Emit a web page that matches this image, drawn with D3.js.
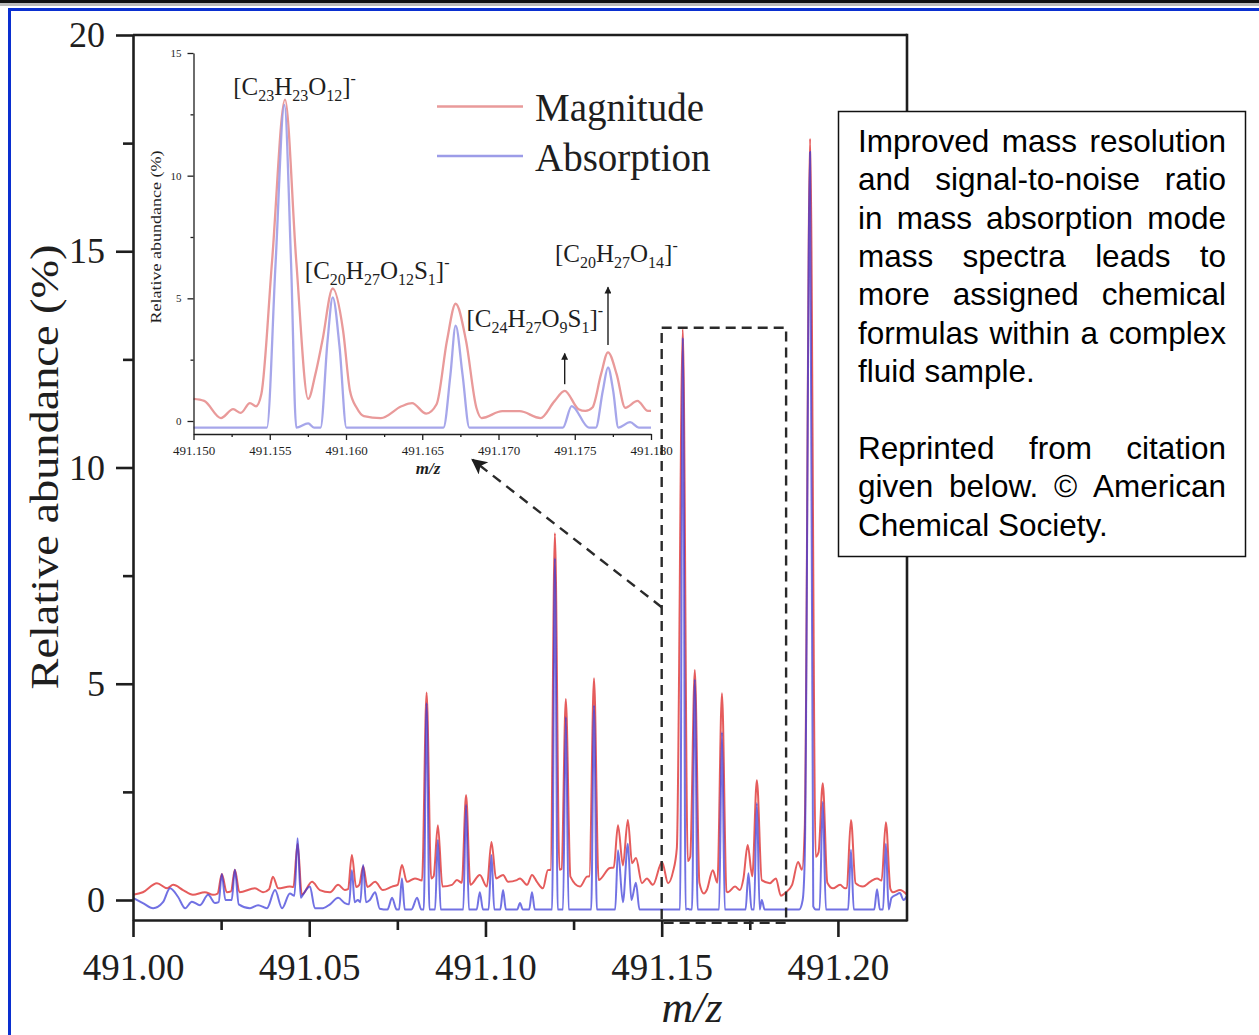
<!DOCTYPE html>
<html>
<head>
<meta charset="utf-8">
<script src="https://cdnjs.cloudflare.com/ajax/libs/d3/7.8.5/d3.min.js"></script>
<style>
    body { margin: 0; background: #fff; }
    svg { display: block; }
</style>
</head>
<body>
<div id="chart"></div>
<script>
// tick values
var mainXTicks = [491.00, 491.05, 491.10, 491.15, 491.20];
var mainXMinor = [491.025, 491.075, 491.125, 491.175];
var mainYTicks = [0, 5, 10, 15, 20];
var mainYMinor = [2.5, 7.5, 12.5, 17.5];
var insetXTicks = [491.150, 491.155, 491.160, 491.165, 491.170, 491.175, 491.180];
var insetXMinor = [491.1525, 491.1575, 491.1625, 491.1675, 491.1725, 491.1775];
var insetYTicks = [0, 5, 10, 15];
var insetYMinor = [2.5, 7.5, 12.5];

var seriesNames = ["Magnitude", "Absorption"];

// main spectrum, [m/z, relative abundance %]
var magnitudeMain = [
    [491.0000, 0.12], [491.0028, 0.18], [491.0068, 0.39], [491.0097, 0.27], [491.0114, 0.35],
    [491.0142, 0.23], [491.0170, 0.12], [491.0204, 0.18], [491.0227, 0.12], [491.0240, 0.15],
    [491.0252, 0.60], [491.0266, 0.18], [491.0278, 0.20], [491.0289, 0.70], [491.0302, 0.18],
    [491.0346, 0.27], [491.0369, 0.18], [491.0386, 0.25], [491.0397, 0.54], [491.0412, 0.27],
    [491.0445, 0.31], [491.0455, 0.30], [491.0467, 1.30], [491.0479, 0.12], [491.0508, 0.42],
    [491.0530, 0.23], [491.0559, 0.18], [491.0582, 0.35], [491.0601, 0.23], [491.0610, 0.25],
    [491.0621, 1.04], [491.0633, 0.30], [491.0642, 0.35], [491.0653, 0.78], [491.0665, 0.30],
    [491.0687, 0.42], [491.0709, 0.23], [491.0735, 0.31], [491.0751, 0.35], [491.0763, 0.81],
    [491.0777, 0.42], [491.0800, 0.50], [491.0820, 0.45], [491.0833, 4.80], [491.0846, 0.50],
    [491.0853, 0.55], [491.0865, 1.73], [491.0878, 0.31], [491.0905, 0.35], [491.0919, 0.46],
    [491.0933, 0.40], [491.0945, 2.43], [491.0957, 0.35], [491.0984, 0.58], [491.1004, 0.31],
    [491.1017, 1.34], [491.1030, 0.50], [491.1050, 0.58], [491.1064, 0.42], [491.1089, 0.46],
    [491.1098, 0.50], [491.1118, 0.35], [491.1132, 0.58], [491.1146, 0.42], [491.1163, 0.27],
    [491.1177, 0.69], [491.1185, 0.70], [491.1197, 8.48], [491.1210, 0.70], [491.1216, 0.72],
    [491.1228, 4.65], [491.1241, 0.54], [491.1268, 0.31], [491.1288, 0.54], [491.1295, 0.55],
    [491.1308, 5.13], [491.1321, 0.46], [491.1353, 0.74], [491.1364, 0.75], [491.1376, 1.73],
    [491.1390, 0.80], [491.1404, 1.85], [491.1416, 0.85], [491.1427, 0.97], [491.1444, 0.39],
    [491.1458, 0.50], [491.1475, 0.35], [491.1501, 0.88], [491.1518, 0.39], [491.1532, 0.65],
    [491.1543, 1.20], [491.1560, 13.20], [491.1574, 0.90], [491.1581, 1.00], [491.1594, 5.32],
    [491.1607, 0.40], [491.1620, 0.15], [491.1628, 0.23], [491.1645, 0.69], [491.1658, 0.40],
    [491.1671, 4.78], [491.1684, 0.20], [491.1688, 0.18], [491.1708, 0.31], [491.1722, 0.23],
    [491.1732, 0.50], [491.1744, 1.27], [491.1757, 0.55], [491.1770, 2.77], [491.1784, 0.46],
    [491.1807, 0.39], [491.1824, 0.50], [491.1838, 0.10], [491.1850, 0.16], [491.1870, 0.35],
    [491.1887, 0.88], [491.1898, 0.70], [491.1906, 1.70], [491.1921, 17.60], [491.1937, 1.00],
    [491.1945, 1.10], [491.1957, 2.70], [491.1970, 0.40], [491.1986, 0.27], [491.2006, 0.35],
    [491.2020, 0.27], [491.2025, 0.28], [491.2037, 1.85], [491.2050, 0.39], [491.2071, 0.31],
    [491.2091, 0.42], [491.2111, 0.50], [491.2124, 0.45], [491.2136, 1.80], [491.2149, 0.25],
    [491.2156, 0.18], [491.2176, 0.23], [491.2196, 0.12]
];

var absorptionMain = [
    [491.0000, 0.05], [491.0028, -0.07], [491.0057, -0.19], [491.0085, -0.05], [491.0105, 0.27],
    [491.0128, 0.07], [491.0148, -0.19], [491.0167, -0.04], [491.0190, -0.12], [491.0213, 0.12],
    [491.0233, -0.07], [491.0243, -0.05], [491.0252, 0.60], [491.0262, 0.00], [491.0280, 0.00],
    [491.0289, 0.70], [491.0300, -0.10], [491.0332, -0.19], [491.0355, -0.12], [491.0380, -0.19],
    [491.0403, 0.23], [491.0423, -0.19], [491.0445, 0.15], [491.0458, 0.10], [491.0467, 1.43],
    [491.0476, 0.05], [491.0482, 0.12], [491.0502, 0.31], [491.0516, -0.19], [491.0539, -0.19],
    [491.0559, -0.10], [491.0582, 0.05], [491.0601, -0.07], [491.0613, -0.10], [491.0621, 0.69],
    [491.0629, -0.05], [491.0638, 0.00], [491.0645, -0.05], [491.0653, 0.81], [491.0661, -0.05],
    [491.0672, 0.00], [491.0687, 0.18], [491.0700, -0.20], [491.0722, -0.22], [491.0735, 0.05],
    [491.0748, -0.22], [491.0755, -0.22], [491.0763, 0.50], [491.0771, -0.22], [491.0790, -0.22],
    [491.0806, 0.05], [491.0818, -0.22], [491.0825, -0.22], [491.0833, 4.55], [491.0841, -0.22],
    [491.0857, -0.22], [491.0865, 1.39], [491.0873, -0.22], [491.0937, -0.22], [491.0945, 2.20],
    [491.0953, -0.22], [491.0975, -0.22], [491.0984, 0.18], [491.0993, -0.22], [491.1009, -0.22],
    [491.1017, 1.04], [491.1025, -0.22], [491.1042, -0.22], [491.1050, 0.23], [491.1058, -0.22],
    [491.1090, -0.22], [491.1098, -0.07], [491.1106, -0.22], [491.1124, -0.22], [491.1132, 0.18],
    [491.1140, -0.22], [491.1189, -0.22], [491.1197, 7.90], [491.1205, -0.22], [491.1220, -0.22],
    [491.1228, 4.23], [491.1236, -0.22], [491.1300, -0.22], [491.1308, 4.50], [491.1316, -0.22],
    [491.1368, -0.22], [491.1376, 1.15], [491.1390, -0.05], [491.1404, 1.30], [491.1414, 0.00],
    [491.1427, 0.40], [491.1437, -0.22], [491.1552, -0.22], [491.1560, 13.00], [491.1568, -0.22],
    [491.1574, -0.20], [491.1580, -0.22], [491.1586, -0.22], [491.1594, 5.10], [491.1602, -0.22],
    [491.1663, -0.22], [491.1671, 3.88], [491.1679, -0.22], [491.1738, -0.22], [491.1746, 0.62],
    [491.1755, -0.22], [491.1762, -0.22], [491.1770, 2.24], [491.1778, -0.22], [491.1784, 0.00],
    [491.1792, -0.22], [491.1890, -0.22], [491.1900, 0.00], [491.1906, 1.00], [491.1921, 17.30],
    [491.1930, -0.15], [491.1937, -0.22], [491.1948, -0.22], [491.1957, 2.27], [491.1966, -0.22],
    [491.2029, -0.22], [491.2037, 1.16], [491.2045, -0.22], [491.2103, -0.22], [491.2111, 0.25],
    [491.2119, -0.22], [491.2128, -0.22], [491.2136, 1.30], [491.2144, -0.22], [491.2152, 0.05],
    [491.2165, 0.12], [491.2176, 0.16], [491.2186, 0.00], [491.2196, 0.10]
];

// inset, 491.150 - 491.180
var magnitudeInset = [
    [491.1500, 0.90], [491.1507, 0.82], [491.1518, 0.12], [491.1526, 0.48], [491.1531, 0.33],
    [491.1537, 0.73], [491.1541, 0.60], [491.15445, 1.10], [491.15515, 6.50], [491.1560, 13.10],
    [491.15674, 6.50], [491.15752, 0.90], [491.15799, 1.90], [491.15845, 3.27], [491.15913, 5.40],
    [491.15981, 3.68], [491.16026, 1.23], [491.1607, 0.54], [491.16117, 0.20], [491.16228, 0.12],
    [491.16364, 0.60], [491.16433, 0.73], [491.16526, 0.30], [491.16594, 0.68], [491.16662, 3.27],
    [491.16719, 4.78], [491.16787, 3.27], [491.16855, 0.54], [491.16889, 0.12], [491.17025, 0.40],
    [491.17139, 0.40], [491.17275, 0.12], [491.17366, 0.80], [491.17434, 1.23], [491.17525, 0.48],
    [491.17570, 0.41], [491.17616, 0.55], [491.17672, 1.90], [491.17718, 2.80], [491.17775, 1.90],
    [491.17831, 0.54], [491.17911, 0.82], [491.1798, 0.41], [491.1800, 0.41]
];

var absorptionInset = [
    [491.1500, -0.27], [491.15481, -0.27], [491.15538, 6.40], [491.15596, 12.88], [491.1564, 6.40],
    [491.15674, -0.27], [491.15752, -0.10], [491.15790, -0.27], [491.15833, -0.27], [491.15879, 3.27],
    [491.15913, 5.04], [491.15958, 3.00], [491.16003, -0.27], [491.16639, -0.27], [491.16685, 1.90],
    [491.16719, 3.89], [491.16764, 1.90], [491.16809, -0.27], [491.17422, -0.27], [491.1748, 0.61],
    [491.17593, -0.27], [491.17638, -0.27], [491.17684, 1.23], [491.17718, 2.18], [491.17752, 1.23],
    [491.17786, -0.27], [491.17863, -0.05], [491.1792, -0.27], [491.1800, -0.27]
];

// assigned formulas: [text, "" | "sub" | "sup"]
var formulaParts = [
    [["[C", ""], ["23", "sub"], ["H", ""], ["23", "sub"], ["O", ""], ["12", "sub"], ["]", ""], ["-", "sup"]],
    [["[C", ""], ["20", "sub"], ["H", ""], ["27", "sub"], ["O", ""], ["12", "sub"], ["S", ""], ["1", "sub"], ["]", ""], ["-", "sup"]],
    [["[C", ""], ["24", "sub"], ["H", ""], ["27", "sub"], ["O", ""], ["9", "sub"], ["S", ""], ["1", "sub"], ["]", ""], ["-", "sup"]],
    [["[C", ""], ["20", "sub"], ["H", ""], ["27", "sub"], ["O", ""], ["14", "sub"], ["]", ""], ["-", "sup"]]
];

var noteParagraphs = [
    ["Improved mass resolution", "and signal-to-noise ratio", "in mass absorption mode",
     "mass spectra leads to", "more assigned chemical", "formulas within a complex", "fluid sample."],
    ["Reprinted from citation", "given below. \u00a9 American", "Chemical Society."]
];

window.onload = function () {
    var serif = "'Liberation Serif', 'Times New Roman', serif";
    var sans = "'Liberation Sans', Arial, sans-serif";
    var ink = "#1e1e1e";

    var svg = d3.select("#chart").append("svg")
        .attr("width", 1259)
        .attr("height", 1035);

    svg.append("rect").attr("width", 1259).attr("height", 1035).attr("fill", "#fff");

    // frame of the slide
    svg.append("rect").attr("x", 0).attr("y", 0).attr("width", 1259).attr("height", 3).attr("fill", "#111");
    svg.append("rect").attr("x", 0).attr("y", 3).attr("width", 1259).attr("height", 3).attr("fill", "#bbb");
    svg.append("rect").attr("x", 8).attr("y", 8).attr("width", 1251).attr("height", 3).attr("fill", "#0a2fd0");
    svg.append("rect").attr("x", 8).attr("y", 8).attr("width", 3).attr("height", 1027).attr("fill", "#0a2fd0");

    var defs = svg.append("defs");
    // the figure is a soft scan, lines get a tiny blur
    defs.append("filter").attr("id", "soft")
        .append("feGaussianBlur").attr("stdDeviation", 0.55);
    defs.append("marker")
        .attr("id", "bigHead")
        .attr("viewBox", "0 0 10 10")
        .attr("refX", 9).attr("refY", 5)
        .attr("markerWidth", 8).attr("markerHeight", 6.5)
        .attr("markerUnits", "strokeWidth")
        .attr("orient", "auto")
        .append("path").attr("d", "M0,0 L10,5 L0,10 L2.5,5 Z").attr("fill", ink);
    defs.append("marker")
        .attr("id", "smallHead")
        .attr("viewBox", "0 0 10 10")
        .attr("refX", 9).attr("refY", 5)
        .attr("markerWidth", 6).attr("markerHeight", 5)
        .attr("markerUnits", "strokeWidth")
        .attr("orient", "auto")
        .append("path").attr("d", "M0,0 L10,5 L0,10 Z").attr("fill", ink);

    // ---------- main plot ----------
    var x = d3.scaleLinear().domain([491.0, 491.2196]).range([133, 907]);
    var y = d3.scaleLinear().domain([-0.4624, 20]).range([920, 35]);

    var line = d3.line()
        .x(function (d) { return x(d[0]); })
        .y(function (d) { return y(d[1]); })
        .curve(d3.curveMonotoneX);

    var spectra = svg.append("g").attr("filter", "url(#soft)");
    spectra.append("path").datum(magnitudeMain)
        .attr("d", line)
        .attr("fill", "none")
        .attr("stroke", "#e24a4a")
        .attr("stroke-opacity", 0.9)
        .attr("stroke-width", 2)
        .attr("stroke-linejoin", "round");
    spectra.append("path").datum(absorptionMain)
        .attr("d", line)
        .attr("fill", "none")
        .attr("stroke", "#3a3ad8")
        .attr("stroke-opacity", 0.72)
        .attr("stroke-width", 2)
        .attr("stroke-linejoin", "round");

    function styleAxis(g, size, width) {
        g.selectAll("path, line").attr("stroke", ink).attr("stroke-width", width);
        g.selectAll("text").attr("font-family", serif).attr("font-size", size).attr("fill", ink);
    }

    var xAxis = svg.append("g").attr("transform", "translate(0," + y.range()[0] + ")")
        .call(d3.axisBottom(x).tickValues(mainXTicks).tickFormat(d3.format(".2f"))
            .tickSize(17).tickSizeOuter(0).tickPadding(17));
    styleAxis(xAxis, 37, 2.6);
    var xMinor = svg.append("g").attr("transform", "translate(0," + y.range()[0] + ")")
        .call(d3.axisBottom(x).tickValues(mainXMinor).tickFormat("").tickSize(10));
    xMinor.select(".domain").remove();
    styleAxis(xMinor, 37, 2.6);

    var yAxis = svg.append("g").attr("transform", "translate(" + x.range()[0] + ",0)")
        .call(d3.axisLeft(y).tickValues(mainYTicks).tickFormat(d3.format("d"))
            .tickSize(17).tickSizeOuter(0).tickPadding(11));
    styleAxis(yAxis, 36, 2.6);
    var yMinor = svg.append("g").attr("transform", "translate(" + x.range()[0] + ",0)")
        .call(d3.axisLeft(y).tickValues(mainYMinor).tickFormat("").tickSize(10));
    yMinor.select(".domain").remove();
    styleAxis(yMinor, 36, 2.6);

    // top and right frame
    svg.append("line")
        .attr("x1", x.range()[0]).attr("x2", x.range()[1])
        .attr("y1", y.range()[1]).attr("y2", y.range()[1])
        .attr("stroke", ink).attr("stroke-width", 2.6);
    svg.append("line")
        .attr("x1", x.range()[1]).attr("x2", x.range()[1])
        .attr("y1", y.range()[1] - 1.3).attr("y2", y.range()[0] + 1.3)
        .attr("stroke", ink).attr("stroke-width", 2.6);

    svg.append("text")
        .attr("transform", "translate(58,467) rotate(-90)")
        .attr("text-anchor", "middle")
        .attr("font-family", serif)
        .attr("font-size", 40)
        .attr("textLength", 445)
        .attr("lengthAdjust", "spacingAndGlyphs")
        .attr("fill", ink)
        .text("Relative abundance (%)");
    svg.append("text")
        .attr("x", 692).attr("y", 1022)
        .attr("text-anchor", "middle")
        .attr("font-family", serif)
        .attr("font-style", "italic")
        .attr("font-size", 44)
        .attr("fill", ink)
        .text("m/z");

    // zoomed region and arrow to the inset
    var zoomBox = [491.15, 491.1853, -0.53, 13.23];
    svg.append("rect")
        .attr("x", x(zoomBox[0])).attr("y", y(zoomBox[3]))
        .attr("width", x(zoomBox[1]) - x(zoomBox[0]))
        .attr("height", y(zoomBox[2]) - y(zoomBox[3]))
        .attr("fill", "none")
        .attr("stroke", "#2a2a2a")
        .attr("stroke-width", 2.4)
        .attr("stroke-dasharray", "10,6");
    var zoomArrow = [[491.15, 6.77], [491.0963, 10.18]];
    svg.append("line")
        .attr("x1", x(zoomArrow[0][0])).attr("y1", y(zoomArrow[0][1]))
        .attr("x2", x(zoomArrow[1][0])).attr("y2", y(zoomArrow[1][1]))
        .attr("stroke", "#2a2a2a")
        .attr("stroke-width", 2.4)
        .attr("stroke-dasharray", "10,7")
        .attr("marker-end", "url(#bigHead)");

    // ---------- inset ----------
    var xi = d3.scaleLinear().domain([491.15, 491.18]).range([193.5, 651]);
    var yi = d3.scaleLinear().domain([-0.53, 15]).range([434, 53]);

    var insetLine = d3.line()
        .x(function (d) { return xi(d[0]); })
        .y(function (d) { return yi(d[1]); })
        .curve(d3.curveMonotoneX);

    var insetSpectra = svg.append("g").attr("filter", "url(#soft)");
    insetSpectra.append("path").datum(magnitudeInset)
        .attr("d", insetLine)
        .attr("fill", "none")
        .attr("stroke", "#e99a9a")
        .attr("stroke-width", 2.3);
    insetSpectra.append("path").datum(absorptionInset)
        .attr("d", insetLine)
        .attr("fill", "none")
        .attr("stroke", "#9c9ce8")
        .attr("stroke-opacity", 0.9)
        .attr("stroke-width", 2.3);

    var xiAxis = svg.append("g").attr("transform", "translate(0," + yi.range()[0] + ")")
        .call(d3.axisBottom(xi).tickValues(insetXTicks).tickFormat(d3.format(".3f"))
            .tickSize(6).tickSizeOuter(0).tickPadding(6));
    styleAxis(xiAxis, 13, 1.3);
    var xiMinor = svg.append("g").attr("transform", "translate(0," + yi.range()[0] + ")")
        .call(d3.axisBottom(xi).tickValues(insetXMinor).tickFormat("").tickSize(3));
    xiMinor.select(".domain").remove();
    styleAxis(xiMinor, 13, 1.3);

    var yiAxis = svg.append("g").attr("transform", "translate(" + xi.range()[0] + ",0)")
        .call(d3.axisLeft(yi).tickValues(insetYTicks).tickFormat(d3.format("d"))
            .tickSize(6).tickSizeOuter(0).tickPadding(6));
    styleAxis(yiAxis, 11, 1.3);
    var yiMinor = svg.append("g").attr("transform", "translate(" + xi.range()[0] + ",0)")
        .call(d3.axisLeft(yi).tickValues(insetYMinor).tickFormat("").tickSize(3));
    yiMinor.select(".domain").remove();
    styleAxis(yiMinor, 11, 1.3);

    svg.append("text")
        .attr("transform", "translate(161,237) rotate(-90)")
        .attr("text-anchor", "middle")
        .attr("font-family", serif)
        .attr("font-size", 14)
        .attr("textLength", 173)
        .attr("lengthAdjust", "spacingAndGlyphs")
        .attr("fill", ink)
        .text("Relative abundance (%)");
    svg.append("text")
        .attr("x", 428).attr("y", 474)
        .attr("text-anchor", "middle")
        .attr("font-family", serif)
        .attr("font-style", "italic")
        .attr("font-weight", "bold")
        .attr("font-size", 17)
        .attr("fill", ink)
        .text("m/z");

    // formula labels, anchored in inset data units
    var formulaAnchors = [[491.1526, 13.3], [491.1573, 5.8], [491.1679, 3.85], [491.1737, 6.5]];
    formulaParts.forEach(function (parts, i) {
        var t = svg.append("text")
            .attr("x", xi(formulaAnchors[i][0]))
            .attr("y", yi(formulaAnchors[i][1]))
            .attr("font-family", serif)
            .attr("fill", ink);
        var cur = 0;
        parts.forEach(function (p) {
            var shift = p[1] == "sub" ? 6 : (p[1] == "sup" ? -11 : 0);
            t.append("tspan")
                .attr("dy", shift - cur)
                .attr("font-size", p[1] ? 16 : 25)
                .text(p[0]);
            cur = shift;
        });
    });

    // arrows pointing at the two small peaks
    var peakArrows = [[491.17434, 1.5, 2.75], [491.17718, 3.1, 5.45]];
    peakArrows.forEach(function (a) {
        svg.append("line")
            .attr("x1", xi(a[0])).attr("y1", yi(a[1]))
            .attr("x2", xi(a[0])).attr("y2", yi(a[2]))
            .attr("stroke", ink)
            .attr("stroke-width", 1.4)
            .attr("marker-end", "url(#smallHead)");
    });

    // legend
    var legendColors = ["#e99a9a", "#9c9ce8"];
    seriesNames.forEach(function (name, i) {
        var ly = 106.5 + i * 49.5;
        svg.append("line")
            .attr("x1", 437).attr("x2", 523)
            .attr("y1", ly).attr("y2", ly)
            .attr("stroke", legendColors[i])
            .attr("stroke-width", 2.4);
        svg.append("text")
            .attr("x", 535).attr("y", ly + 14.5)
            .attr("font-family", serif)
            .attr("font-size", 39)
            .attr("fill", ink)
            .text(name);
    });

    // ---------- note box ----------
    svg.append("rect")
        .attr("x", 838.5).attr("y", 111.5)
        .attr("width", 407).attr("height", 445)
        .attr("fill", "#fff")
        .attr("stroke", "#111")
        .attr("stroke-width", 1.5);

    var noteLeft = 858, noteWidth = 368, noteTop = 152, noteLead = 38.35;
    var row = 0;
    noteParagraphs.forEach(function (para) {
        para.forEach(function (txt, j) {
            var t = svg.append("text")
                .attr("y", noteTop + row * noteLead)
                .attr("font-family", sans)
                .attr("font-size", 31.5)
                .attr("fill", "#000");
            if (j == para.length - 1) {
                t.attr("x", noteLeft).text(txt);
            } else {
                var words = txt.split(" ");
                var spans = words.map(function (w) {
                    return t.append("tspan").attr("x", noteLeft).text(w);
                });
                var widths = spans.map(function (s) { return s.node().getComputedTextLength(); });
                var gap = (noteWidth - d3.sum(widths)) / (words.length - 1);
                var cx = noteLeft;
                spans.forEach(function (s, k) {
                    s.attr("x", cx);
                    cx += widths[k] + gap;
                });
            }
            row++;
        });
        row++;
    });
};
</script>
</body>
</html>
